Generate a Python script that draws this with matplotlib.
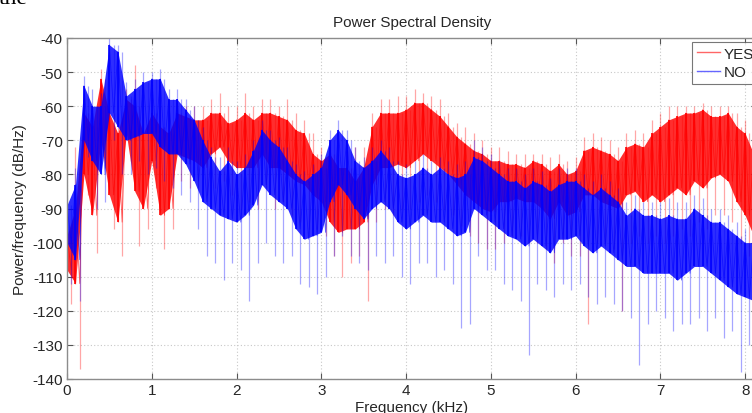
import numpy as np
import matplotlib
matplotlib.use("Agg")
import matplotlib.pyplot as plt
from matplotlib.lines import Line2D

# ---------------- data ----------------
freq_khz = np.round(np.arange(0, 82) * 0.1, 2)  # 0.0 .. 8.1 kHz

# YES series (red): envelope of the dense spectrum
yes_top = [-95, -72, -58, -62, -49, -58, -62, -55, -48, -62,
           -58, -60, -62, -58, -60, -60, -60, -58, -56, -60,
           -60, -56, -60, -58, -58, -60, -58, -62, -64, -68,
           -72, -70, -74, -73, -72, -72, -62, -58, -58, -57,
           -57, -55, -56, -57, -58, -62, -65, -66, -68, -70,
           -72, -72, -73, -74, -74, -74, -74, -75, -74, -76,
           -75, -69, -68, -69, -70, -72, -68, -67, -68, -64,
           -62, -60, -60, -60, -60, -59, -60, -60, -60, -62,
           -64, -70]
yes_hi = [-98, -90, -62, -66, -52, -62, -68, -58, -60, -68,
          -62, -66, -68, -62, -63, -64, -64, -62, -62, -65,
          -64, -62, -64, -62, -62, -63, -64, -67, -68, -74,
          -76, -74, -78, -78, -82, -78, -66, -62, -62, -62,
          -61, -59, -59, -61, -63, -66, -69, -71, -73, -74,
          -76, -76, -77, -77, -78, -76, -77, -79, -77, -80,
          -79, -73, -72, -73, -74, -76, -72, -71, -72, -68,
          -66, -64, -63, -62, -62, -61, -63, -63, -62, -66,
          -68, -74]
yes_lo = [-108, -112, -80, -92, -70, -86, -94, -68, -85, -90,
          -76, -92, -90, -74, -75, -76, -78, -74, -72, -76,
          -78, -78, -78, -74, -78, -78, -80, -82, -83, -86,
          -88, -94, -97, -96, -96, -94, -83, -78, -78, -77,
          -78, -76, -74, -76, -78, -80, -83, -86, -88, -90,
          -91, -88, -88, -87, -88, -88, -90, -93, -88, -92,
          -91, -86, -86, -88, -89, -90, -86, -85, -88, -86,
          -88, -86, -84, -86, -82, -84, -81, -80, -82, -88,
          -92, -98]
yes_bot = [-118, -137, -86, -103, -78, -96, -104, -76, -101, -96,
           -84, -102, -96, -82, -84, -84, -86, -84, -82, -86,
           -90, -88, -90, -84, -90, -88, -92, -94, -96, -96,
           -98, -104, -110, -106, -104, -117, -94, -90, -92, -90,
           -90, -88, -86, -88, -90, -92, -95, -98, -100, -102,
           -102, -100, -98, -98, -100, -100, -102, -106, -100, -104,
           -104, -124, -100, -100, -102, -120, -100, -98, -100, -98,
           -100, -98, -96, -98, -94, -96, -92, -92, -94, -100,
           -104, -108]

# NO series (blue)
no_top = [-86, -78, -51, -55, -56, -40, -42, -53, -52, -50,
          -50, -49, -55, -55, -58, -60, -66, -72, -75, -72,
          -76, -74, -70, -64, -67, -69, -72, -77, -79, -77,
          -74, -67, -64, -67, -72, -75, -72, -70, -72, -76,
          -77, -76, -74, -76, -75, -76, -77, -76, -70, -72,
          -74, -76, -78, -78, -80, -78, -79, -81, -78, -78,
          -78, -80, -82, -80, -82, -84, -88, -86, -88, -88,
          -88, -87, -88, -88, -86, -87, -90, -90, -92, -94,
          -96, -97]
no_hi = [-89, -83, -54, -60, -60, -42, -44, -57, -55, -53,
         -52, -52, -58, -58, -61, -64, -70, -75, -79, -76,
         -80, -78, -73, -67, -70, -72, -76, -80, -82, -80,
         -78, -70, -67, -70, -76, -78, -76, -73, -76, -80,
         -81, -80, -78, -80, -78, -80, -81, -80, -75, -76,
         -78, -80, -82, -82, -84, -82, -83, -85, -83, -82,
         -82, -84, -86, -84, -86, -88, -92, -90, -92, -92,
         -93, -92, -93, -93, -90, -92, -94, -94, -96, -98,
         -100, -100]
no_lo = [-100, -105, -70, -76, -80, -62, -66, -70, -69, -68,
         -68, -72, -74, -74, -77, -82, -88, -90, -92, -93,
         -94, -92, -89, -83, -86, -88, -90, -96, -99, -98,
         -97, -88, -83, -86, -90, -93, -90, -88, -90, -94,
         -96, -94, -92, -94, -94, -96, -98, -97, -90, -92,
         -94, -96, -98, -99, -101, -99, -101, -103, -99, -99,
         -98, -101, -103, -101, -103, -105, -107, -107, -109, -109,
         -109, -109, -111, -109, -107, -107, -109, -111, -113, -115,
         -116, -117]
no_bot = [-112, -117, -75, -90, -88, -70, -80, -80, -76, -80,
          -78, -82, -84, -86, -88, -96, -104, -106, -111, -106,
          -108, -117, -106, -100, -104, -106, -104, -112, -113, -115,
          -110, -104, -98, -104, -106, -108, -104, -106, -104, -110,
          -112, -106, -106, -110, -108, -112, -125, -124, -104, -108,
          -108, -112, -114, -117, -133, -112, -114, -116, -112, -114,
          -112, -116, -118, -116, -118, -120, -122, -136, -124, -120,
          -122, -126, -124, -124, -122, -126, -122, -128, -126, -138,
          -130, -128]

series_labels = ["YES", "NO"]
series_colors = ["#ff0000", "#0000ff"]
x_ticks = [0, 1, 2, 3, 4, 5, 6, 7, 8]
y_ticks = [-40, -50, -60, -70, -80, -90, -100, -110, -120, -130, -140]

# ---------------- figure ----------------
W, H = 752, 414
fig = plt.figure(figsize=(W / 100, H / 100), dpi=100)
fig.patch.set_facecolor("white")

# stray text from the surrounding document (cropped at the top edge)
fig.text(-0.001, 1 - 4 / H, "the", family="Liberation Serif", fontsize=17,
         ha="left", va="baseline", color="black")

ax_l, ax_r, ax_t, ax_b = 67, 757, 39, 380
ax = fig.add_axes([ax_l / W, 1 - ax_b / H, (ax_r - ax_l) / W, (ax_b - ax_t) / H])
ax.set_xlim(0, 8.14)
ax.set_ylim(-140, -40)

FONT = "Liberation Sans"
tcol = "#262626"


def draw_series(top, hi, lo, bot, color, z):
    f = freq_khz
    top, hi, lo, bot = map(np.asarray, (top, hi, lo, bot))
    # light outer spikes (upward at the samples, downward half way between)
    ax.vlines(f, lo, top, color=color, lw=0.9, alpha=0.35, zorder=z)
    ax.vlines(f + 0.05, bot, hi, color=color, lw=0.9, alpha=0.35, zorder=z)
    # dense core of the spectrum
    ax.fill_between(f, lo, hi, color=color, alpha=0.82, lw=0, zorder=z + 0.1)
    ax.vlines(f, lo, hi, color=color, lw=1.3, alpha=0.9, zorder=z + 0.2)
    # connecting trace through the core
    x = np.empty(2 * len(f))
    y = np.empty(2 * len(f))
    x[0::2] = f
    x[1::2] = f + 0.05
    y[0::2] = hi
    y[1::2] = lo
    ax.plot(x, y, color=color, lw=0.6, alpha=0.6, zorder=z + 0.2)


draw_series(yes_top, yes_hi, yes_lo, yes_bot, series_colors[0], 2)
draw_series(no_top, no_hi, no_lo, no_bot, series_colors[1], 3)

ax.set_xticks(x_ticks)
ax.set_yticks(y_ticks)
ax.set_xticklabels([str(t) for t in x_ticks], family=FONT, fontsize=11, color=tcol)
ax.set_yticklabels([str(t) for t in y_ticks], family=FONT, fontsize=11, color=tcol)
ax.tick_params(direction="in", length=4, width=0.8, color="#555555",
               top=True, right=True, pad=3)
ax.grid(True, linestyle=(0, (1, 2)), color="#c8c8c8", lw=0.8, zorder=1)
ax.set_axisbelow(True)
for s in ax.spines.values():
    s.set_color("#8c8c8c")
    s.set_linewidth(1.0)
    s.set_zorder(5)

ax.set_title("Power Spectral Density", family=FONT, fontsize=11, color=tcol, pad=9)
ax.set_xlabel("Frequency (kHz)", family=FONT, fontsize=11, color=tcol, labelpad=2)
ax.set_ylabel("Power/frequency (dB/Hz)", family=FONT, fontsize=11, color=tcol, labelpad=4)

handles = [Line2D([], [], color=c, lw=1.0, alpha=0.6) for c in series_colors]
leg = ax.legend(handles, series_labels, loc="upper left",
                bbox_to_anchor=(692 / W, 1 - 43 / H), bbox_transform=fig.transFigure,
                prop={"family": FONT, "size": 11}, frameon=True, fancybox=False,
                handlelength=1.5, handletextpad=0.25, labelspacing=0.3,
                borderpad=0.3, borderaxespad=0)
leg.get_frame().set_edgecolor("#555555")
leg.get_frame().set_linewidth(0.8)
for t in leg.get_texts():
    t.set_color(tcol)
leg.set_zorder(10)

fig.savefig("out.png", dpi=100, facecolor="white")
